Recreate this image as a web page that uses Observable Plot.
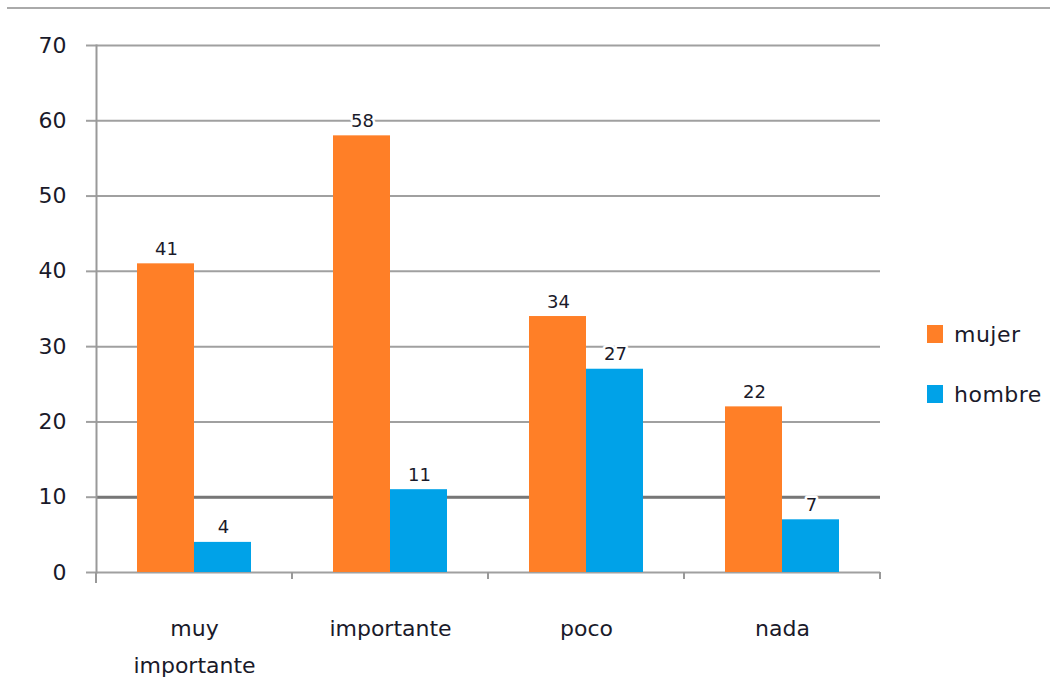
<!DOCTYPE html>
<html>
<head>
<meta charset="utf-8">
<script src="https://cdn.jsdelivr.net/npm/d3@7"></script>
<script src="https://cdn.jsdelivr.net/npm/@observablehq/plot@0.6"></script>
<style>
  html, body { margin: 0; padding: 0; background: #fff; }
  #wrap { position: relative; width: 1050px; height: 681px; overflow: hidden; font-family: "DejaVu Sans", sans-serif; }
  #chart { position: absolute; left: 0; top: 0; }
  #topline { position: absolute; left: 7px; top: 7px; width: 1043px; height: 0; border-top: 2px solid #aaaaaa; }
  #legend { position: absolute; left: 927px; top: 320px; font-size: 22px; letter-spacing: 0.5px; color: #1a1a2a; }
  .item { display: flex; align-items: center; height: 28px; margin-bottom: 32px; }
  .sw { width: 16px; height: 18px; margin-right: 11px; }
</style>
</head>
<body>
<div id="wrap">
  <div id="chart"></div>
  <div id="topline"></div>
  <div id="legend"></div>
</div>
<script>
const categories = ["muy importante", "importante", "poco", "nada"];
const categoryLabels = ["muy\nimportante", "importante", "poco", "nada"];
const series = ["mujer", "hombre"];
const mujer = [41, 58, 34, 22];
const hombre = [4, 11, 27, 7];
const yTicks = [0, 10, 20, 30, 40, 50, 60, 70];
const colors = ["#FF7F27", "#00A2E8"];

const rows = [];
categories.forEach((c, i) => {
  rows.push({cat: c, serie: "mujer", value: mujer[i]});
  rows.push({cat: c, serie: "hombre", value: hombre[i]});
});
const mujerRows = rows.filter(d => d.serie === "mujer");
const hombreRows = rows.filter(d => d.serie === "hombre");

const labelOf = new Map(categories.map((c, i) => [c, categoryLabels[i]]));

function bandTicks(index, scales, values, dimensions) {
  const x = scales.x, y = scales.y;
  const g = d3.create("svg:g");
  const bw = x.bandwidth();
  const edges = categories.map(c => x(c)).concat([x(categories[categories.length - 1]) + bw]);
  g.selectAll("line").data(edges).join("line")
    .attr("x1", d => d).attr("x2", d => d)
    .attr("y1", y(0)).attr("y2", (d, i) => y(0) + (i === 0 ? 11 : 7))
    .attr("stroke", "#999").attr("stroke-width", 2);
  return g.node();
}

const chart = Plot.plot({
  width: 1050,
  height: 681,
  marginLeft: 96,
  marginRight: 170,
  marginTop: 45,
  marginBottom: 109,
  style: {fontFamily: "DejaVu Sans, sans-serif", color: "#1a1a2a", background: "transparent"},
  x: {domain: categories, padding: 0},
  y: {domain: [0, 70]},
  marks: [
    Plot.gridY(yTicks, {stroke: "#a0a0a0", strokeOpacity: 1, strokeWidth: 2}),
    Plot.ruleY([10], {stroke: "#777", strokeWidth: 3}),
    Plot.axisY(yTicks, {tickSize: 10, tickPadding: 20, stroke: "#a0a0a0", strokeWidth: 2, fontSize: 22, fill: "#1a1a2a", label: null, tickFormat: d => d}),
    Plot.frame({anchor: "left", stroke: "#999", strokeWidth: 2}),
    Plot.barY(mujerRows, {x: "cat", y: "value", fill: colors[0], insetLeft: 41, insetRight: 98}),
    Plot.barY(hombreRows, {x: "cat", y: "value", fill: colors[1], insetLeft: 98, insetRight: 41}),
    Plot.text(mujerRows, {x: "cat", y: "value", text: d => String(d.value), dx: -28, dy: -9, lineAnchor: "bottom", fontSize: 18, fill: "#1a1a2a", stroke: "white", strokeWidth: 5, paintOrder: "stroke"}),
    Plot.text(hombreRows, {x: "cat", y: "value", text: d => String(d.value), dx: 29, dy: -9, lineAnchor: "bottom", fontSize: 18, fill: "#1a1a2a", stroke: "white", strokeWidth: 5, paintOrder: "stroke"}),
    Plot.axisX({tickSize: 0, tickPadding: 37, fontSize: 22, fill: "#1a1a2a", lineHeight: 1.7, label: null, tickFormat: d => labelOf.get(d)}),
    bandTicks
  ]
});

document.getElementById("chart").appendChild(chart);

const legend = document.getElementById("legend");
series.forEach((s, i) => {
  const item = document.createElement("div");
  item.className = "item";
  const sw = document.createElement("div");
  sw.className = "sw";
  sw.style.background = colors[i];
  const t = document.createElement("span");
  t.textContent = s;
  item.appendChild(sw);
  item.appendChild(t);
  legend.appendChild(item);
});
</script>
</body>
</html>
